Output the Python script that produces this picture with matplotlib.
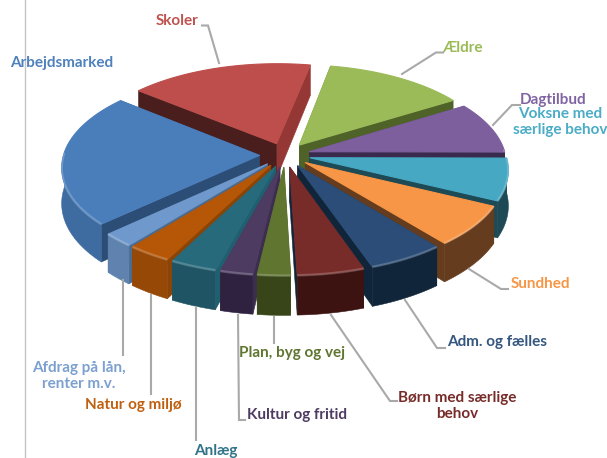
import numpy as np
import matplotlib
matplotlib.use('Agg')
import matplotlib.pyplot as plt

# clockwise from the left edge of Skoler
labels = ['Skoler', 'Ældre', 'Dagtilbud', 'Voksne med\nsærlige behov', 'Sundhed', 'Adm. og fælles',
          'Børn med særlige\nbehov', 'Plan, byg og vej', 'Kultur og fritid', 'Anlæg', 'Natur og miljø',
          'Afdrag på lån,\nrenter m.v.', 'Arbejdsmarked']
values = [17.3, 13.2, 8.8, 7.1, 6.9, 5.6, 4.9, 2.4, 2.4, 3.4, 3.2, 2.3, 22.7]

top_colors = ['#BD4E4B', '#9BBB59', '#7D5F9E', '#47A8C4', '#F79646', '#2B4D77', '#772C2A',
              '#5F7530', '#4D3B62', '#276A7C', '#B65708', '#6F99CC', '#4A7EBB']
outer_colors = ['#8F3A38', '#4F6228', '#3A2A4D', '#1D4A55', '#653C1E', '#10253A', '#3C1311',
                '#384519', '#2F2240', '#1E5463', '#964806', '#5F83AE', '#3E6BA0']
radial_colors = ['#4A1E1C', '#4F6228', '#3A2A4D', '#1D4A55', '#653C1E', '#10253A', '#10253A',
                 '#4A5C24', '#3D2E50', '#1F5F70', '#8A4506', '#4A6C92', '#2C4D75']
text_colors = ['#BE5350', '#9BBB59', '#8064A2', '#4BACC6', '#F79646', '#34567F', '#772C2A',
               '#5F7530', '#4D3B62', '#31748A', '#C0600F', '#7CA0CF', '#4F81BD']
skoler_right = '#953735'

label_pos = [(177, 21), (462, 48), (553, 100), (560, 122), (540, 284), (497, 342), (457, 406),
             (292, 353), (297, 415), (216, 451), (133, 405), (79, 376), (62, 63)]

leaders = [[(202, 25.5), (208, 25.5), (219, 63)],
           [(443, 52.5), (436, 52.5), (402, 74)],
           [(520, 105), (512, 105), (493, 125)],
           [(508, 289), (501, 289), (469, 269)],
           [(445, 348), (437, 348), (405, 300)],
           [(397, 401), (390, 401), (331, 315)],
           [(273.5, 317), (273.5, 343)],
           [(245, 420), (239, 420), (238, 315)],
           [(196, 307), (196, 440)],
           [(151, 295), (151, 394)],
           [(122.5, 280), (122.5, 355)]]

start_angle = 141
cx, cy = 285, 155
R, kR, depth = 196, 94, 35
persp = 0.12
explode = 0.13


def project(u, v, z=0.0):
    s = 1 - persp * v
    return cx + R * u * s, cy - kR * v * s + depth * z * s


fig = plt.figure(figsize=(6.07, 4.58), dpi=100)
ax = fig.add_axes([0, 0, 1, 1])
ax.set_xlim(0, 607)
ax.set_ylim(458, 0)
ax.axis('off')
ax.plot([24.5, 24.5], [0, 458], color='#C4C4C4', lw=1)

fracs = np.array(values) / sum(values) * 360
ends = start_angle - np.cumsum(fracs)
starts = ends + fracs
mids = (starts + ends) / 2
order = np.argsort(-np.sin(np.radians(mids)))

for i in order:
    a0, a1 = np.radians(starts[i]), np.radians(ends[i])
    m = np.radians(mids[i])
    ou, ov = explode * np.cos(m), explode * np.sin(m)
    th = np.linspace(a0, a1, 60)
    ru, rv = ou + np.cos(th), ov + np.sin(th)

    tx, ty = project(ru, rv)
    bx, by = project(ru, rv, 1)
    ax0, ay0 = project(ou, ov)
    ax1, ay1 = project(ou, ov, 1)

    walls = [([ax0, tx[0], bx[0], ax1], [ay0, ty[0], by[0], ay1], radial_colors[i]),
             ([ax0, tx[-1], bx[-1], ax1], [ay0, ty[-1], by[-1], ay1],
              skoler_right if labels[i] == 'Skoler' else radial_colors[i])]
    walls.sort(key=lambda w: np.mean(w[1]))
    for wx, wy, c in walls:
        ax.fill(wx, wy, color=c, lw=0.4)
    # only the part of the rim facing the viewer has a side wall
    front = np.sin(th) < 0.03
    if front.any():
        ax.fill(np.r_[tx[front], bx[front][::-1]], np.r_[ty[front], by[front][::-1]],
                color=outer_colors[i], lw=0.4)
    ax.fill(np.r_[ax0, tx], np.r_[ay0, ty], color=top_colors[i], lw=0.8, joinstyle='round')
    if front.any():
        ax.plot(tx[front], ty[front], color='white', alpha=0.2, lw=1.8, solid_capstyle='butt')

for pts in leaders:
    ax.plot(*zip(*pts), color='#A9A9A9', lw=1.5, solid_joinstyle='miter')

for lab, (x, y), c in zip(labels, label_pos, text_colors):
    ax.text(x, y, lab, color=c, family='Lato', weight='bold', fontsize=11,
            ha='center', va='center', linespacing=1.25, clip_on=True)

fig.savefig('out.png', dpi=100)
